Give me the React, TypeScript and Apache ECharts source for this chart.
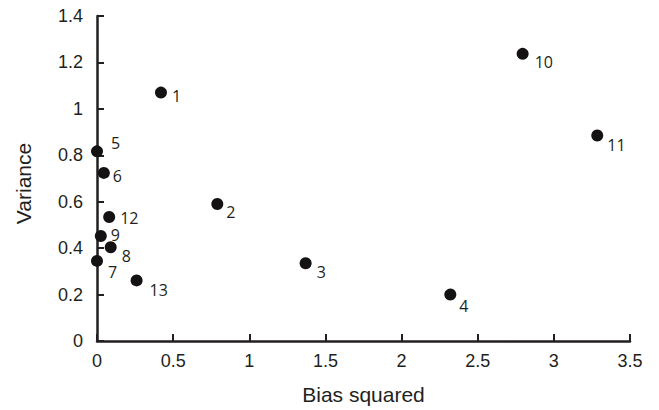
import React, { useEffect, useRef } from "react";
import * as echarts from "echarts";

const pointLabels = ["1", "2", "3", "4", "5", "6", "7", "8", "9", "10", "11", "12", "13"];
const biasSquared = [0.42, 0.79, 1.37, 2.32, 0.0, 0.045, 0.0, 0.09, 0.025, 2.795, 3.285, 0.08, 0.26];
const variance = [1.07, 0.59, 0.335, 0.2, 0.817, 0.724, 0.345, 0.404, 0.452, 1.237, 0.885, 0.534, 0.261];
const labelOffsets: [number, number][] = [
  [5, 3], [3, 8], [5, 9], [3, 11], [8, -8], [3, 3], [5, 11], [5, 9], [4, -1], [6, 8], [4, 9], [5, 1], [7, 10],
];

const INK = "#231f20";

export default function App() {
  const ref = useRef<HTMLDivElement>(null);
  useEffect(() => {
    document.body.style.margin = "0";
    const chart = echarts.init(ref.current!, null, { renderer: "svg" });
    const data = biasSquared.map((x, i) => ({
      value: [x, variance[i]],
      name: pointLabels[i],
      label: { offset: labelOffsets[i] },
    }));
    chart.setOption({
      animation: false,
      backgroundColor: "#ffffff",
      grid: { left: 97, right: 29, top: 16, bottom: 68 },
      xAxis: {
        type: "value",
        min: 0,
        max: 3.5,
        interval: 0.5,
        name: "Bias squared",
        nameLocation: "middle",
        nameGap: 43,
        nameTextStyle: { fontFamily: "Liberation Sans", fontSize: 21, color: INK },
        axisLine: { show: true, lineStyle: { color: INK, width: 2.5 } },
        axisTick: { show: true, inside: true, length: 7, lineStyle: { color: INK, width: 2 } },
        axisLabel: { fontFamily: "Liberation Sans", fontSize: 18, color: INK, margin: 11 },
        splitLine: { show: false },
      },
      yAxis: {
        type: "value",
        min: 0,
        max: 1.4,
        interval: 0.2,
        name: "Variance",
        nameLocation: "middle",
        nameGap: 63,
        nameTextStyle: { fontFamily: "Liberation Sans", fontSize: 21, color: INK, padding: [0, 10, 0, 0] },
        axisLine: { show: true, lineStyle: { color: INK, width: 2.5 } },
        axisTick: { show: true, inside: true, length: 7, lineStyle: { color: INK, width: 2 } },
        axisLabel: { fontFamily: "Liberation Sans", fontSize: 18, color: INK, margin: 14 },
        splitLine: { show: false },
      },
      series: [
        {
          type: "scatter",
          symbol: "circle",
          symbolSize: 12,
          itemStyle: { color: "#141213", opacity: 1 },
          data,
          label: {
            show: true,
            position: "right",
            distance: 0,
            formatter: (p: any) => p.name,
            fontFamily: "Open Sans",
            fontSize: 16,
            color: INK,
          },
        },
      ],
    });
    return () => chart.dispose();
  }, []);
  return <div ref={ref} style={{ width: 659, height: 410 }} />;
}
